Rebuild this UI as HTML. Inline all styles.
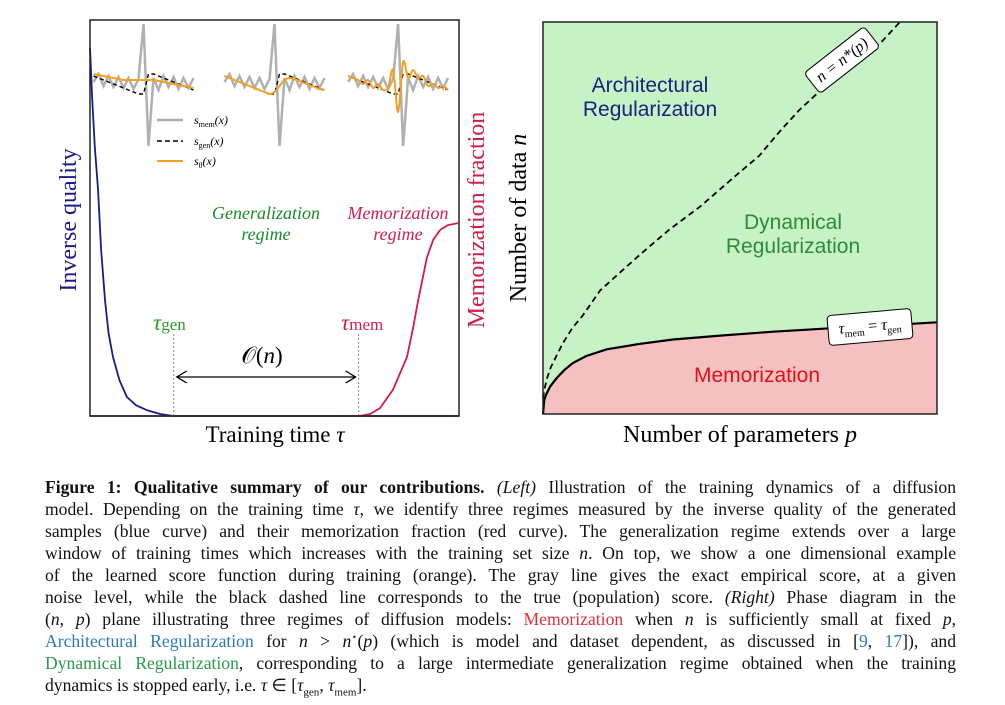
<!DOCTYPE html>
<html><head><meta charset="utf-8">
<style>
html,body{margin:0;padding:0;background:#fff;}
body{width:1005px;height:705px;position:relative;overflow:hidden;font-family:"Liberation Serif",serif;}
svg{position:absolute;left:0;top:0;}
.cap{position:absolute;left:45px;width:911px;font-size:17.6px;line-height:22px;color:#111;}
.cap div{text-align:justify;text-align-last:justify;white-space:nowrap;height:22px;overflow:visible;}
.cap div.last{text-align-last:left;}
.cap sup,.cap sub{line-height:0;}
i{font-style:italic;}
.blue{color:#2b7bb9}.green{color:#2a9a4a}.red{color:#e0303a}
</style></head><body>
<svg id="fig" width="1005" height="470" font-family="Liberation Serif, serif"></svg>
<div class="cap" style="top:476px">
<div><b>Figure 1: Qualitative summary of our contributions.</b> <i>(Left)</i> Illustration of the training dynamics of a diffusion</div>
<div>model. Depending on the training time <i>τ</i>, we identify three regimes measured by the inverse quality of the generated</div>
<div>samples (blue curve) and their memorization fraction (red curve). The generalization regime extends over a large</div>
<div>window of training times which increases with the training set size <i>n</i>. On top, we show a one dimensional example</div>
<div>of the learned score function during training (orange). The gray line gives the exact empirical score, at a given</div>
<div>noise level, while the black dashed line corresponds to the true (population) score. <i>(Right)</i> Phase diagram in the</div>
<div>(<i>n</i>, <i>p</i>) plane illustrating three regimes of diffusion models: <span class="red">Memorization</span> when <i>n</i> is sufficiently small at fixed <i>p</i>,</div>
<div><span class="blue">Architectural Regularization</span> for <i>n</i> &gt; <i>n</i><sup style="font-size:10px">⋆</sup>(<i>p</i>) (which is model and dataset dependent, as discussed in [<span class="blue">9</span>, <span class="blue">17</span>]), and</div>
<div><span class="green">Dynamical Regularization</span>, corresponding to a large intermediate generalization regime obtained when the training</div>
<div class="last">dynamics is stopped early, i.e. <i>τ</i> ∈ [<i>τ</i><sub style="font-size:11px">gen</sub>, <i>τ</i><sub style="font-size:11px">mem</sub>].</div>
</div>
<script>
// Left panel data (training time t in [0,1], value in [0,1])
const blueT=[0,0.006,0.013,0.022,0.03,0.041,0.05,0.062,0.08,0.1,0.125,0.154,0.19,0.225,1];
const blueQ=[0.93,0.8,0.68,0.57,0.42,0.29,0.21,0.15,0.09,0.048,0.027,0.015,0.005,0,0];
const redT=[0,0.73,0.759,0.786,0.821,0.859,0.875,0.889,0.913,0.93,0.949,0.97,0.997];
const redQ=[0,0,0.005,0.02,0.066,0.149,0.22,0.29,0.40,0.445,0.47,0.482,0.487];
const tauGen=0.227, tauMem=0.728;
// Right panel data (p, n in [0,1])
const bndP=[0,0.003,0.008,0.018,0.035,0.055,0.076,0.11,0.162,0.24,0.33,0.45,0.584,0.75,0.9,1];
const bndN=[0,0.035,0.05,0.07,0.092,0.113,0.13,0.148,0.165,0.178,0.19,0.2,0.21,0.22,0.228,0.234];
const dashP=[0,0.003,0.01,0.02,0.035,0.05,0.075,0.1,0.145,0.2,0.25,0.32,0.4,0.48,0.55,0.6,0.65,0.72,0.8,0.86,0.906];
const dashN=[0.04,0.06,0.09,0.12,0.15,0.18,0.22,0.25,0.315,0.365,0.41,0.47,0.53,0.6,0.66,0.72,0.775,0.84,0.9,0.95,1];

const NS="http://www.w3.org/2000/svg";
const svg=document.getElementById('fig');
function mk(tag,attrs,parent){const e=document.createElementNS(NS,tag);for(const k in attrs)e.setAttribute(k,attrs[k]);(parent||svg).appendChild(e);return e;}
function txt(s,attrs){const e=mk('text',attrs);e.innerHTML=s;return e;}
const Lx=t=>90+t*369, Ly=q=>416-q*396;
const Rx=p=>543+p*394, Ry=n=>414-n*392;
function poly(xs,ys){return 'M'+xs.map((x,i)=>x.toFixed(1)+','+ys[i].toFixed(1)).join(' L');}
function smooth(xs,ys){let d='M'+xs[0]+','+ys[0];for(let i=1;i<xs.length;i++){const x0=xs[i-1],y0=ys[i-1],x1=xs[i],y1=ys[i];const xp=i>1?xs[i-2]:x0,yp=i>1?ys[i-2]:y0;const xn=i<xs.length-1?xs[i+1]:x1,yn=i<xs.length-1?ys[i+1]:y1;d+=' C'+(x0+(x1-xp)/6)+','+(y0+(y1-yp)/6)+' '+(x1-(xn-x0)/6)+','+(y1-(yn-y0)/6)+' '+x1+','+y1;}return d;}

// ---- Right panel ----
let e;
e=mk('rect',{x:543,y:22,width:394,height:392,fill:'#c6f2c6'});


const bx=bndP.map(Rx), by=bndN.map(Ry);
e=mk('path',{d:poly(bx,by)+' L937,414 L543,414 Z',fill:'#f4c0c0'});


e=mk('path',{d:poly(bx,by),fill:'none',stroke:'#000','stroke-width':2.2,'stroke-linejoin':'round'});


e=mk('path',{d:poly(dashP.map(Rx),dashN.map(Ry)),fill:'none',stroke:'#000','stroke-width':1.8,'stroke-dasharray':'6,4'});


e=mk('rect',{x:543,y:22,width:394,height:392,fill:'none',stroke:'#222','stroke-width':1.5});


let g=mk('g',{transform:'translate(842,60) rotate(-38)'});


mk('rect',{x:-38,y:-13,width:76,height:26,rx:4,fill:'#fff',stroke:'#000','stroke-width':1},g);
e=mk('text',{x:0,y:5,'text-anchor':'middle','font-size':16,'font-style':'italic'},g);e.textContent='n = n*(p)';
g=mk('g',{transform:'translate(870,327) rotate(-5)'});


mk('rect',{x:-42,y:-15,width:84,height:30,rx:4,fill:'#fff',stroke:'#000','stroke-width':1},g);
e=mk('text',{x:0,y:4,'text-anchor':'middle','font-size':16,'font-style':'italic'},g);e.innerHTML='τ<tspan font-size="10" dy="4" font-style="normal">mem</tspan><tspan dy="-4" font-style="normal"> = </tspan>τ<tspan font-size="10" dy="4" font-style="normal">gen</tspan>';
e=txt('Architectural',{x:650,y:92,'text-anchor':'middle','font-size':21,fill:'#1a237e','font-family':'Liberation Sans, sans-serif'});

e=txt('Regularization',{x:650,y:116,'text-anchor':'middle','font-size':21,fill:'#1a237e','font-family':'Liberation Sans, sans-serif'});

e=txt('Dynamical',{x:793,y:229,'text-anchor':'middle','font-size':21,fill:'#2e8b3a','font-family':'Liberation Sans, sans-serif'});

e=txt('Regularization',{x:793,y:253,'text-anchor':'middle','font-size':21,fill:'#2e8b3a','font-family':'Liberation Sans, sans-serif'});

e=txt('Memorization',{x:757,y:382,'text-anchor':'middle','font-size':21,fill:'#e0101a','font-family':'Liberation Sans, sans-serif'});

e=txt('Number of parameters <tspan font-style="italic">p</tspan>',{x:740,y:442,'text-anchor':'middle','font-size':24});

e=txt('Number of data <tspan font-style="italic">n</tspan>',{x:0,y:0,'text-anchor':'middle','font-size':24,transform:'translate(526,218) rotate(-90)'});


// ---- Left panel ----
e=mk('path',{d:poly(blueT.map(Lx),blueQ.map(Ly)),fill:'none',stroke:'#1a1a8a','stroke-width':1.8,'stroke-linejoin':'round'});

e=mk('path',{d:poly(redT.map(Lx),redQ.map(Ly)),fill:'none',stroke:'#cc1f4a','stroke-width':1.8,'stroke-linejoin':'round'});

e=mk('line',{x1:Lx(tauGen),x2:Lx(tauGen),y1:334,y2:416,stroke:'#888','stroke-width':1,'stroke-dasharray':'2,2'});

e=mk('line',{x1:Lx(tauMem),x2:Lx(tauMem),y1:334,y2:416,stroke:'#888','stroke-width':1,'stroke-dasharray':'2,2'});

e=mk('path',{d:`M${Lx(tauGen)+3},377 L${Lx(tauMem)-3},377 M${Lx(tauGen)+13},371 L${Lx(tauGen)+3},377 L${Lx(tauGen)+13},383 M${Lx(tauMem)-13},371 L${Lx(tauMem)-3},377 L${Lx(tauMem)-13},383`,fill:'none',stroke:'#000','stroke-width':1.3});

e=mk('rect',{x:90,y:20,width:369,height:396,fill:'none',stroke:'#222','stroke-width':1.5});

e=txt('𝒪(<tspan font-style="italic">n</tspan>)',{x:262,y:363,'text-anchor':'middle','font-size':23});

e=txt('<tspan font-style="italic" font-size="23">τ</tspan>gen',{x:153,y:330,'font-size':17,fill:'#2a9a2a'});

e=txt('<tspan font-style="italic" font-size="23">τ</tspan>mem',{x:341,y:330,'font-size':17,fill:'#d02050'});

e=txt('Generalization',{x:266,y:219,'text-anchor':'middle','font-size':18,'font-style':'italic',fill:'#1a8a2a'});

e=txt('regime',{x:266,y:240,'text-anchor':'middle','font-size':18,'font-style':'italic',fill:'#1a8a2a'});

e=txt('Memorization',{x:398,y:219,'text-anchor':'middle','font-size':18,'font-style':'italic',fill:'#d02050'});

e=txt('regime',{x:398,y:240,'text-anchor':'middle','font-size':18,'font-style':'italic',fill:'#d02050'});

e=txt('Training time <tspan font-style="italic">τ</tspan>',{x:275,y:442,'text-anchor':'middle','font-size':23});

e=txt('Inverse quality',{x:0,y:0,'text-anchor':'middle','font-size':24,fill:'#1a1a8a',transform:'translate(76,220) rotate(-90)'});

e=txt('Memorization fraction',{x:0,y:0,'text-anchor':'middle','font-size':24,fill:'#cc1f4a',transform:'translate(484,220) rotate(-90)'});


// ---- Inset score functions (offsets in px relative to inset center) ----
const insetCenters=[0.145,0.5,0.835];
const grayDY=[0,-8,4,-6,5,-5,6,-4,7,-3,-58,64,-4,8,-6,5,-5,7,-4,6,-4];
const genDY=[-6,-4,-2,0,2,4,6,8,10,12,12,-8,-8,-6,-4,-2,0,2,4,6,8];
const orangeSets=[
 [-8,-7,-6,-5,-4,-3,-2,-2,-2,-2,-2,-2,-2,-1,0,1,2,3,4,5,6],
 [-6,-4,-2,0,2,4,6,8,10,12,10,4,-2,-4,-3,-1,1,3,5,7,8],
 [-6,-4,-2,2,-2,6,2,8,6,-12,30,-20,-4,-12,-4,-6,4,2,6,4,8]];
insetCenters.forEach((c,k)=>{
  const cx=Lx(c), cy=82, xs=grayDY.map((_,i)=>cx-50+i*5);
  const gi=mk('g',{});
  
  
  mk('polyline',{points:xs.map((x,i)=>x+','+(cy+grayDY[i])).join(' '),fill:'none',stroke:'#b0b0b0','stroke-width':2.5},gi);
  mk('polyline',{points:xs.map((x,i)=>x+','+(cy+genDY[i])).join(' '),fill:'none',stroke:'#000','stroke-width':1.4,'stroke-dasharray':'4,3'},gi);
  mk('path',{d:smooth(xs,xs.map((_,i)=>cy+orangeSets[k][i])),fill:'none',stroke:'#f5a020','stroke-width':2},gi);
});
// legend
const lg=mk('g',{});


mk('line',{x1:157,x2:183,y1:120,y2:120,stroke:'#aaa','stroke-width':2.5},lg);
mk('line',{x1:157,x2:183,y1:141,y2:141,stroke:'#000','stroke-width':1.5,'stroke-dasharray':'5,3'},lg);
mk('line',{x1:157,x2:183,y1:161,y2:161,stroke:'#f5a020','stroke-width':2},lg);
[['mem',124],['gen',145],['θ',165]].forEach(([s,y])=>{const t=mk('text',{x:194,y:y,'font-size':12,'font-style':'italic'},lg);t.innerHTML='s<tspan font-size="8" dy="3" font-style="normal">'+s+'</tspan><tspan dy="-3">(x)</tspan>';});
</script>
</body></html>
